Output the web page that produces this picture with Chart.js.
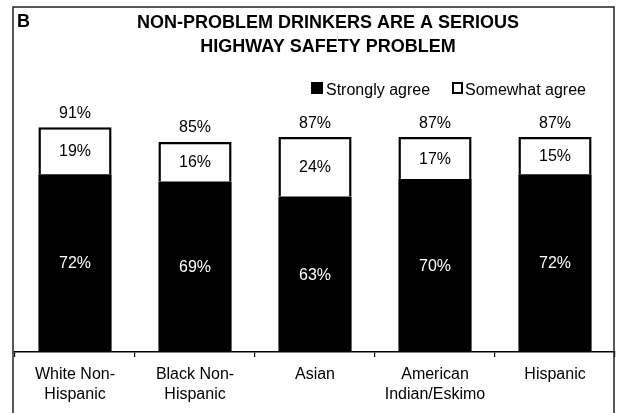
<!DOCTYPE html>
<html>
<head>
<meta charset="utf-8">
<script src="https://cdn.jsdelivr.net/npm/chart.js@4/dist/chart.umd.min.js"></script>
<style>
  html, body { margin: 0; padding: 0; background: #fff; }
  canvas { display: block; }
</style>
</head>
<body>
<canvas id="chart" width="617" height="413"></canvas>
<script>
// Survey groups along the x axis (each label split over two lines)
const categories = [
  ["White Non-", "Hispanic"],
  ["Black Non-", "Hispanic"],
  ["Asian"],
  ["American", "Indian/Eskimo"],
  ["Hispanic"]
];
// Percent of respondents per answer
const stronglyAgree = [72, 69, 63, 70, 72];
const somewhatAgree = [19, 16, 24, 17, 15];
// Combined agreement printed above each bar
const totalAgree = [91, 85, 87, 87, 87];

const panelLetter = "B";
const titleLines = ["NON-PROBLEM DRINKERS ARE A SERIOUS", "HIGHWAY SAFETY PROBLEM"];
const seriesNames = ["Strongly agree", "Somewhat agree"];

const FONT = "'Liberation Sans', Arial, sans-serif";

// Frame, panel letter, heading and key drawn around the plot
const decorations = {
  id: 'decorations',
  beforeDraw(chart) {
    const ctx = chart.ctx;
    ctx.save();
    ctx.fillStyle = '#fff';
    ctx.fillRect(0, 0, chart.width, chart.height);
    ctx.restore();
  },
  afterDraw(chart) {
    const ctx = chart.ctx;
    ctx.save();
    // outer frame
    ctx.strokeStyle = '#222';
    ctx.lineWidth = 1.5;
    ctx.beginPath();
    ctx.moveTo(13, 420);
    ctx.lineTo(13, 7);
    ctx.lineTo(614, 7);
    ctx.lineTo(614, 420);
    ctx.stroke();

    ctx.fillStyle = '#000';
    ctx.textBaseline = 'alphabetic';
    ctx.font = 'bold 18px ' + FONT;
    ctx.textAlign = 'left';
    ctx.fillText(panelLetter, 17, 27);
    ctx.textAlign = 'center';
    ctx.fillText(titleLines[0], 328, 28);
    ctx.fillText(titleLines[1], 328, 52);

    // key
    ctx.font = '16px ' + FONT;
    ctx.textAlign = 'left';
    ctx.fillRect(311, 82, 12, 12);
    ctx.fillText(seriesNames[0], 326, 95);
    ctx.fillStyle = '#fff';
    ctx.fillRect(452, 82, 11, 12);
    ctx.strokeStyle = '#000';
    ctx.lineWidth = 2;
    ctx.strokeRect(453, 83, 9, 10);
    ctx.fillStyle = '#000';
    ctx.fillText(seriesNames[1], 465, 95);
    ctx.restore();
  }
};

// Percent labels inside each segment and totals above each bar
const valueLabels = {
  id: 'valueLabels',
  afterDatasetsDraw(chart) {
    const ctx = chart.ctx;
    ctx.save();
    ctx.font = '16px ' + FONT;
    ctx.textAlign = 'center';
    ctx.textBaseline = 'middle';
    const lower = chart.getDatasetMeta(0).data;
    const upper = chart.getDatasetMeta(1).data;
    lower.forEach((bar, i) => {
      ctx.fillStyle = '#fff';
      ctx.fillText(stronglyAgree[i] + '%', bar.x, (bar.y + bar.base) / 2 + 1);
    });
    upper.forEach((bar, i) => {
      ctx.fillStyle = '#000';
      ctx.fillText(somewhatAgree[i] + '%', bar.x, (bar.y + bar.base) / 2 + 1);
      const yTop = chart.scales.y.getPixelForValue(totalAgree[i]);
      ctx.fillText(totalAgree[i] + '%', bar.x, yTop - 14);
    });
    ctx.restore();
  }
};

new Chart(document.getElementById('chart'), {
  type: 'bar',
  data: {
    labels: categories,
    datasets: [
      {
        label: seriesNames[0],
        data: stronglyAgree,
        backgroundColor: '#000',
        borderColor: '#000',
        borderWidth: 0
      },
      {
        label: seriesNames[1],
        data: somewhatAgree,
        backgroundColor: '#fff',
        borderColor: '#000',
        borderWidth: { top: 2.5, left: 2.5, right: 2.5, bottom: 0 },
        borderSkipped: 'bottom'
      }
    ]
  },
  options: {
    responsive: false,
    animation: false,
    devicePixelRatio: 1,
    layout: { padding: { top: 105, left: 15, right: 2, bottom: 0 } },
    plugins: {
      legend: { display: false },
      title: { display: false },
      tooltip: { enabled: false }
    },
    datasets: {
      bar: { categoryPercentage: 1, barPercentage: 0.61 }
    },
    scales: {
      x: {
        stacked: true,
        offset: true,
        afterFit(scale) { scale.height = 61; },
        border: { display: true, color: '#000', width: 1.5 },
        grid: {
          offset: true,
          drawOnChartArea: false,
          drawTicks: true,
          tickLength: 5,
          color: '#000',
          lineWidth: 1.2
        },
        ticks: {
          color: '#000',
          font: { family: FONT, size: 16, lineHeight: 1.25 },
          padding: 8,
          maxRotation: 0,
          autoSkip: false
        }
      },
      y: {
        stacked: true,
        display: false,
        min: 0,
        max: 100
      }
    }
  },
  plugins: [decorations, valueLabels]
});
</script>
</body>
</html>
